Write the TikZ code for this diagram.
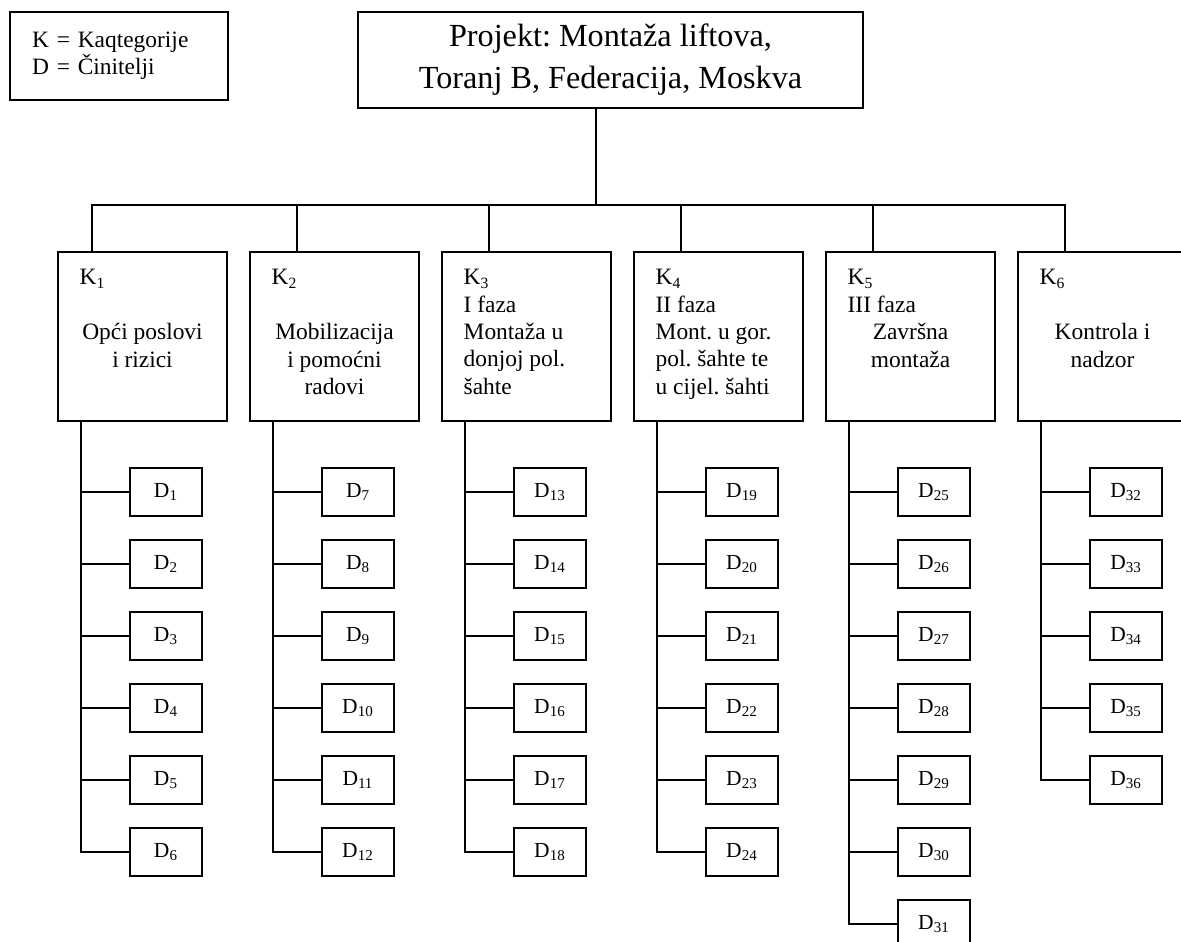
\documentclass[tikz,border=0pt]{standalone}
\usepackage{fontspec}
\setmainfont{Liberation Serif}
\frenchspacing
\usetikzlibrary{positioning,calc}
\tikzset{
kbox/.style = {draw, rectangle, minimum width=3.042cm, minimum height=3.042cm},
dbox/.style = {draw, fill=white, rectangle, minimum width=1.296cm, minimum height=0.864cm, inner sep=0pt, font=\fontsize{11}{13}\selectfont},
ktext/.style = {inner sep=0pt, align=left, font=\fontsize{12}{14}\selectfont},
tmp/.style = {coordinate}
}

\begin{document}
\begin{tikzpicture}[node distance=1.296cm, line width=0.9pt]
    \useasboundingbox (0,0) rectangle (21.258,-16.956);
    % legenda i projekt
    \node [draw, align=left, text width=3.13cm, inner xsep=0.396cm, minimum height=1.584cm, font=\fontsize{12}{14}\selectfont] (legend) at (2.142,-1.008) {K = Kaqtegorije\\D = Činitelji};
    \node [draw, align=center, minimum width=9.09cm, minimum height=1.728cm, font=\fontsize{16.5}{21.5}\selectfont] (title) at (10.989,-1.08) {Projekt: Montaža liftova,\\Toranj B, Federacija, Moskva};
    % kategorije
    \node [kbox] (k1) at (2.565,-6.057) {};
    \node [kbox, right of=k1, node distance=3.456cm] (k2) {};
    \node [kbox, right of=k2, node distance=3.456cm] (k3) {};
    \node [kbox, right of=k3, node distance=3.456cm] (k4) {};
    \node [kbox, right of=k4, node distance=3.456cm] (k5) {};
    \node [kbox, right of=k5, node distance=3.456cm] (k6) {};
    \node [ktext, anchor=north west] (kl1) at ([xshift=0.39cm,yshift=-0.315cm]k1.north west) {K\textsubscript{1}};
    \node [ktext, align=center, anchor=north] (kb1) at ([yshift=-1.29cm]k1.north) {Opći poslovi\\i rizici};
    \node [ktext, anchor=north west] (kl2) at ([xshift=0.39cm,yshift=-0.315cm]k2.north west) {K\textsubscript{2}};
    \node [ktext, align=center, anchor=north] (kb2) at ([yshift=-1.29cm]k2.north) {Mobilizacija\\i pomoćni\\radovi};
    \node [ktext, anchor=north west] (kl3) at ([xshift=0.39cm,yshift=-0.315cm]k3.north west) {K\textsubscript{3}\\I faza\\Montaža u\\donjoj pol.\\šahte};
    \node [ktext, anchor=north west] (kl4) at ([xshift=0.39cm,yshift=-0.315cm]k4.north west) {K\textsubscript{4}\\II faza\\Mont. u gor.\\pol. šahte te\\u cijel. šahti};
    \node [ktext, anchor=north west] (kl5) at ([xshift=0.39cm,yshift=-0.315cm]k5.north west) {K\textsubscript{5}\\III faza};
    \node [ktext, align=center, anchor=north] (kb5) at ([yshift=-1.29cm]k5.north) {Završna\\montaža};
    \node [ktext, anchor=north west] (kl6) at ([xshift=0.39cm,yshift=-0.315cm]k6.north west) {K\textsubscript{6}};
    \node [ktext, align=center, anchor=north] (kb6) at ([yshift=-1.29cm]k6.north) {Kontrola i\\nadzor};
    % veze projekt - kategorije
    \coordinate (top) at ([xshift=4.302cm]title.south west);
    \coordinate (bar) at ([yshift=-1.728cm]top);
    \coordinate (t1) at ([xshift=0.63cm]k1.north west);
    \coordinate (t2) at ([xshift=0.864cm]k2.north west);
    \coordinate (t3) at ([xshift=0.864cm]k3.north west);
    \coordinate (t4) at ([xshift=0.864cm]k4.north west);
    \coordinate (t5) at ([xshift=0.864cm]k5.north west);
    \coordinate (t6) at ([xshift=0.864cm]k6.north west);
    \draw (top) -- (bar);
    \draw (t1) |- (bar) -| (t6);
    \draw (t2) -- (t2 |- bar);
    \draw (t3) -- (t3 |- bar);
    \draw (t4) -- (t4 |- bar);
    \draw (t5) -- (t5 |- bar);
    % cinitelji K1
    \node [dbox, below of=k1, xshift=0.423cm, node distance=2.799cm] (d1) {D\textsubscript{1}};
    \node [dbox, below of=d1] (d2) {D\textsubscript{2}};
    \node [dbox, below of=d2] (d3) {D\textsubscript{3}};
    \node [dbox, below of=d3] (d4) {D\textsubscript{4}};
    \node [dbox, below of=d4] (d5) {D\textsubscript{5}};
    \node [dbox, below of=d5] (d6) {D\textsubscript{6}};
    % cinitelji K2
    \node [dbox, below of=k2, xshift=0.423cm, node distance=2.799cm] (d7) {D\textsubscript{7}};
    \node [dbox, below of=d7] (d8) {D\textsubscript{8}};
    \node [dbox, below of=d8] (d9) {D\textsubscript{9}};
    \node [dbox, below of=d9] (d10) {D\textsubscript{10}};
    \node [dbox, below of=d10] (d11) {D\textsubscript{11}};
    \node [dbox, below of=d11] (d12) {D\textsubscript{12}};
    % cinitelji K3
    \node [dbox, below of=k3, xshift=0.423cm, node distance=2.799cm] (d13) {D\textsubscript{13}};
    \node [dbox, below of=d13] (d14) {D\textsubscript{14}};
    \node [dbox, below of=d14] (d15) {D\textsubscript{15}};
    \node [dbox, below of=d15] (d16) {D\textsubscript{16}};
    \node [dbox, below of=d16] (d17) {D\textsubscript{17}};
    \node [dbox, below of=d17] (d18) {D\textsubscript{18}};
    % cinitelji K4
    \node [dbox, below of=k4, xshift=0.423cm, node distance=2.799cm] (d19) {D\textsubscript{19}};
    \node [dbox, below of=d19] (d20) {D\textsubscript{20}};
    \node [dbox, below of=d20] (d21) {D\textsubscript{21}};
    \node [dbox, below of=d21] (d22) {D\textsubscript{22}};
    \node [dbox, below of=d22] (d23) {D\textsubscript{23}};
    \node [dbox, below of=d23] (d24) {D\textsubscript{24}};
    % cinitelji K5
    \node [dbox, below of=k5, xshift=0.423cm, node distance=2.799cm] (d25) {D\textsubscript{25}};
    \node [dbox, below of=d25] (d26) {D\textsubscript{26}};
    \node [dbox, below of=d26] (d27) {D\textsubscript{27}};
    \node [dbox, below of=d27] (d28) {D\textsubscript{28}};
    \node [dbox, below of=d28] (d29) {D\textsubscript{29}};
    \node [dbox, below of=d29] (d30) {D\textsubscript{30}};
    \node [dbox, below of=d30] (d31) {D\textsubscript{31}};
    % cinitelji K6
    \node [dbox, below of=k6, xshift=0.423cm, node distance=2.799cm] (d32) {D\textsubscript{32}};
    \node [dbox, below of=d32] (d33) {D\textsubscript{33}};
    \node [dbox, below of=d33] (d34) {D\textsubscript{34}};
    \node [dbox, below of=d34] (d35) {D\textsubscript{35}};
    \node [dbox, below of=d35] (d36) {D\textsubscript{36}};
    % veze kategorije - cinitelji
    \coordinate (s1) at ([xshift=0.432cm]k1.south west);
    \coordinate (s2) at ([xshift=0.432cm]k2.south west);
    \coordinate (s3) at ([xshift=0.432cm]k3.south west);
    \coordinate (s4) at ([xshift=0.432cm]k4.south west);
    \coordinate (s5) at ([xshift=0.432cm]k5.south west);
    \coordinate (s6) at ([xshift=0.432cm]k6.south west);
    \draw (s1) |- (d1) (s1) |- (d2) (s1) |- (d3) (s1) |- (d4) (s1) |- (d5) (s1) |- (d6);
    \draw (s2) |- (d7) (s2) |- (d8) (s2) |- (d9) (s2) |- (d10) (s2) |- (d11) (s2) |- (d12);
    \draw (s3) |- (d13) (s3) |- (d14) (s3) |- (d15) (s3) |- (d16) (s3) |- (d17) (s3) |- (d18);
    \draw (s4) |- (d19) (s4) |- (d20) (s4) |- (d21) (s4) |- (d22) (s4) |- (d23) (s4) |- (d24);
    \draw (s5) |- (d25) (s5) |- (d26) (s5) |- (d27) (s5) |- (d28) (s5) |- (d29) (s5) |- (d30) (s5) |- (d31);
    \draw (s6) |- (d32) (s6) |- (d33) (s6) |- (d34) (s6) |- (d35) (s6) |- (d36);
\end{tikzpicture}
\end{document}
